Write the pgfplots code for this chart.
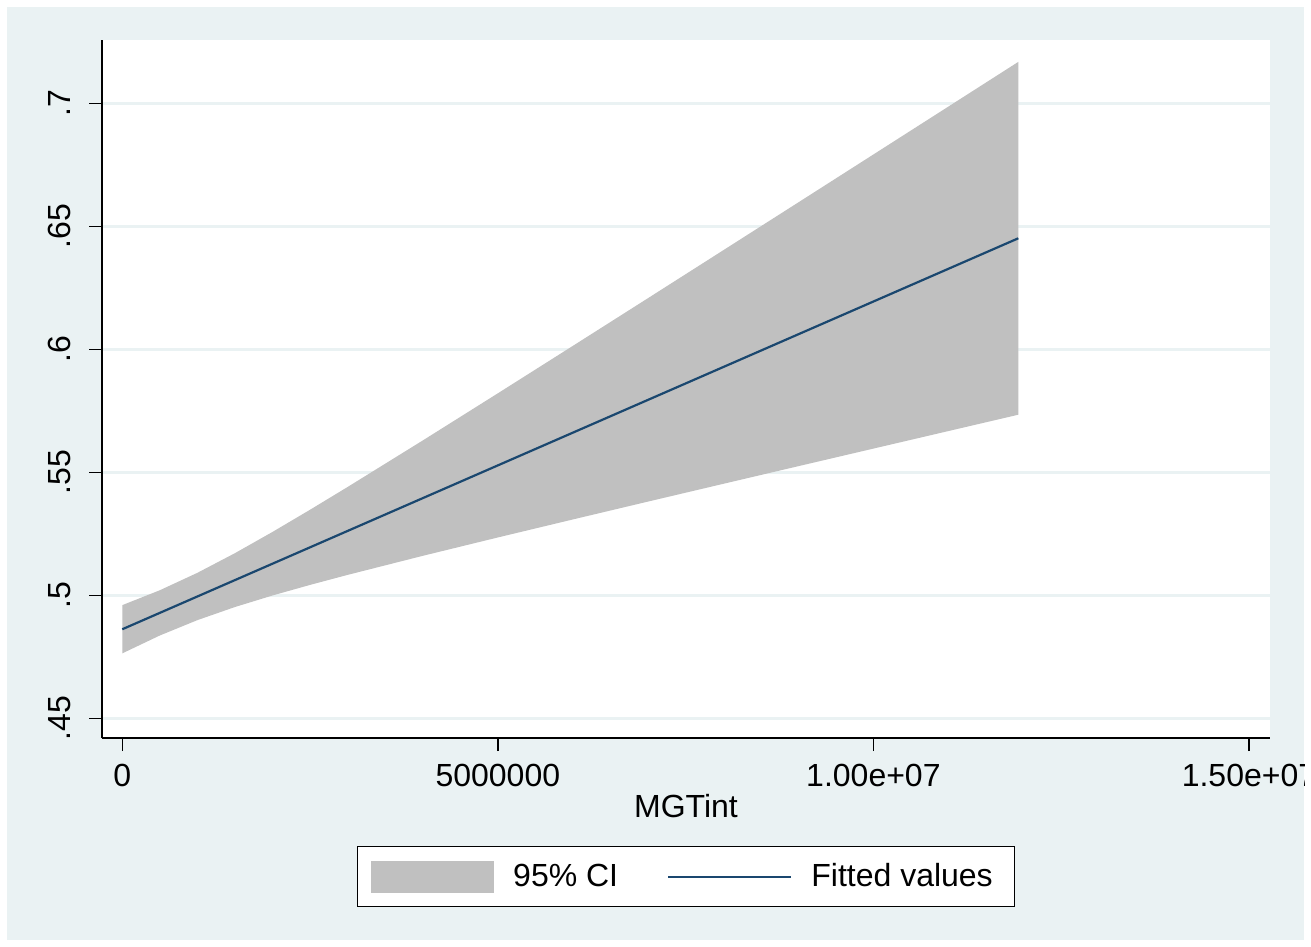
\documentclass[border=0pt]{standalone}
\usepackage{fontspec}
\setmainfont{Liberation Sans}
\usepackage{pgfplots}
\pgfplotsset{compat=1.18}
\definecolor{stbg}{HTML}{EAF2F3}
\definecolor{stgrid}{HTML}{EAF2F3}
\definecolor{bandgray}{HTML}{C0C0C0}
\definecolor{stnavy}{HTML}{1A476F}
\begin{document}
\begin{tikzpicture}
\useasboundingbox (0,0) rectangle (655.5pt,473.5pt);
\fill[white] (0,0) rectangle (655.5pt,473.5pt);
\fill[stbg] (3.5pt,3.5pt) rectangle (652pt,470pt);
\begin{scope}
\clip (3.5pt,3.5pt) rectangle (652pt,470pt);
\begin{axis}[
  at={(51pt,104.5pt)}, anchor=south west,
  width=584pt, height=349pt, scale only axis,
  xmin=-270000, xmax=15280000,
  ymin=0.442, ymax=0.7257,
  axis x line*=bottom, axis y line*=left,
  axis line style={black, line width=0.7pt, -},
  axis background/.style={fill=white},
  xtick={0,5000000,10000000,15000000},
  xticklabels={0,5000000,1.00e+07,1.50e+07},
  scaled x ticks=false, scaled y ticks=false,
  ytick={0.45,0.5,0.55,0.6,0.65,0.7},
  yticklabels={.45,.5,.55,.6,.65,.7},
  tick align=outside, major tick length=6.5pt,
  tick style={black, line width=0.7pt},
  ymajorgrids, grid style={stgrid, line width=1.3pt},
  tick label style={font=\fontsize{16}{19}\selectfont},
  yticklabel style={rotate=90, anchor=south, inner sep=0pt},
  xticklabel style={anchor=north, inner sep=0pt},
  xticklabel shift=6.5pt, yticklabel shift=9pt,
  xlabel={MGTint}, label style={font=\fontsize{16}{19}\selectfont},
  legend columns=2,
  legend style={at={(0.5,-0.1547)}, anchor=north, draw=black, line width=0.65pt, fill=white,
    inner xsep=7pt, inner ysep=7pt, font=\fontsize{16}{19}\selectfont,
    nodes={inner sep=0pt},
    /tikz/every odd column/.style={column sep=9.5pt},
    /tikz/every even column/.style={column sep=24.5pt}},
]
\addplot[fill=bandgray, draw=none,
  legend image code/.code={\fill[bandgray] (0pt,-8pt) rectangle (61.5pt,8pt);}]
coordinates {
(0,0.4960) (500000,0.50205) (1000000,0.50913) (1500000,0.51712) (2000000,0.52575)
(2500000,0.53477) (3000000,0.54402) (4000000,0.56292) (5000000,0.58209) (6000000,0.6014)
(7000000,0.62078) (8000000,0.64022) (9000000,0.65968) (10000000,0.67917) (11000000,0.69867)
(11929000,0.7168)
(11929000,0.5734) (11000000,0.56677) (10000000,0.55963) (9000000,0.55248) (8000000,0.5453)
(7000000,0.5381) (6000000,0.53084) (5000000,0.52351) (4000000,0.51604) (3000000,0.5083)
(2500000,0.50423) (2000000,0.49993) (1500000,0.49524) (1000000,0.48991) (500000,0.48367)
(0,0.4764)
} -- cycle;
\addlegendentry{95\% CI}
\addplot[stnavy, line width=1.1pt,
  legend image code/.code={\draw[stnavy, line width=1.1pt] (0pt,0pt) -- (61.5pt,0pt);}]
coordinates {(0,0.4862) (5000000,0.5528) (11929000,0.6451)};
\addlegendentry{Fitted values\hspace*{4pt}}
\end{axis}
\end{scope}
\end{tikzpicture}
\end{document}
